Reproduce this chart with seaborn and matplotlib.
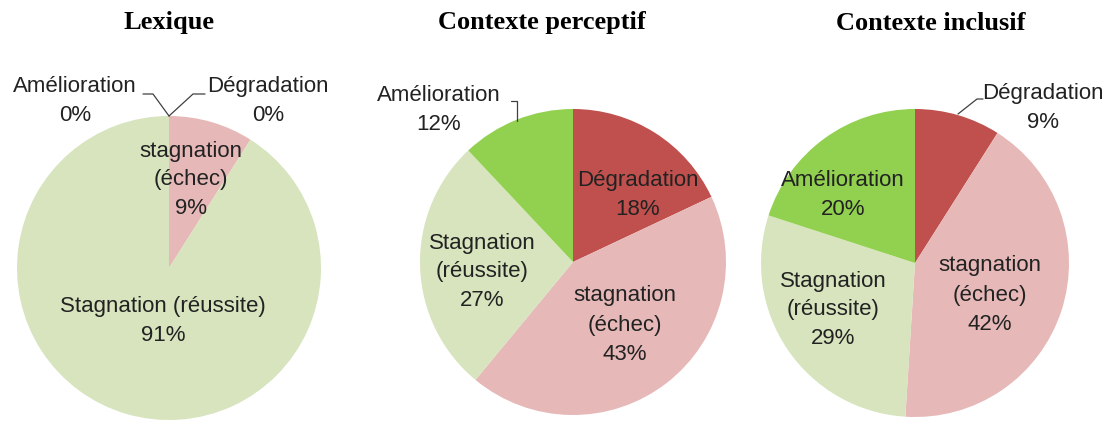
import matplotlib
matplotlib.use("Agg")
import matplotlib.pyplot as plt
import seaborn as sns
from matplotlib import font_manager

sns.set_style("white")

# ---- data ----
titles = ["Lexique", "Contexte perceptif", "Contexte inclusif"]
categories = ["Dégradation", "stagnation (échec)", "Stagnation (réussite)", "Amélioration"]
lexique_values = [0, 9, 91, 0]
perceptif_values = [18, 43, 27, 12]
inclusif_values = [9, 42, 29, 20]
lexique_labels = ["Dégradation", "stagnation\n(échec)", "Stagnation (réussite)", "Amélioration"]
perceptif_labels = ["Dégradation", "stagnation\n(échec)", "Stagnation\n(réussite)", "Amélioration"]
inclusif_labels = ["Dégradation", "stagnation\n(échec)", "Stagnation\n(réussite)", "Amélioration"]
colors = ["#C0504D", "#E6B9B8", "#D7E4BD", "#92D050"]

available = {f.name for f in font_manager.fontManager.ttflist}
label_font = "Liberation Sans Narrow" if "Liberation Sans Narrow" in available else "Liberation Sans"
plt.rcParams["font.family"] = [label_font, "DejaVu Sans"]

W, H = 1113, 421
fig = plt.figure(figsize=(W / 100, H / 100), dpi=100)

# layout (pixels): centre x, centre y, radius
pies = [
    dict(cx=169, cy=268, r=152, title_x=169, values=lexique_values, labels=lexique_labels,
         pos=[(268, 101), (191, 180), (163, 321), (75, 101)],
         leaders=[[(169, 116), (193, 94), (205, 94)], [(169, 116), (153, 94), (143, 94)]]),
    dict(cx=573, cy=262, r=153, title_x=542, values=perceptif_values, labels=perceptif_labels,
         pos=[(638, 195), (625, 325), (482, 272), (439, 110)],
         leaders=[[(517, 121), (517, 101), (511, 101)]]),
    dict(cx=915, cy=263, r=154, title_x=931, values=inclusif_values, labels=inclusif_labels,
         pos=[(1043, 108), (990, 295), (833, 310), (843, 195)],
         leaders=[[(958, 114), (977, 99), (983, 99)]]),
]

text_color = "#222222"
for p, title in zip(pies, titles):
    cx, cy, r = p["cx"], p["cy"], p["r"]
    ax = fig.add_axes([(cx - r) / W, (H - cy - r) / H, 2 * r / W, 2 * r / H])
    ax.pie(p["values"], colors=colors, startangle=90, counterclock=False,
           radius=1, wedgeprops=dict(linewidth=0))
    ax.set_xlim(-1, 1)
    ax.set_ylim(-1, 1)
    ax.set_aspect("auto")
    ax.axis("off")
    for lab, val, (px, py) in zip(p["labels"], p["values"], p["pos"]):
        ax.text((px - cx) / r, (cy - py) / r, f"{lab}\n{val}%", ha="center", va="center",
                fontsize=16, color=text_color, linespacing=1.5, clip_on=False)
    for pts in p["leaders"]:
        xs = [(x - cx) / r for x, _ in pts]
        ys = [(cy - y) / r for _, y in pts]
        ax.plot(xs, ys, color="#404040", lw=0.9, clip_on=False)
    fig.text(p["title_x"] / W, 1 - 23 / H, title, ha="center", va="center",
             fontsize=19, fontweight="bold", family=["Liberation Serif", "DejaVu Serif"],
             color="black")

fig.savefig("out.png", dpi=100, facecolor="white")
